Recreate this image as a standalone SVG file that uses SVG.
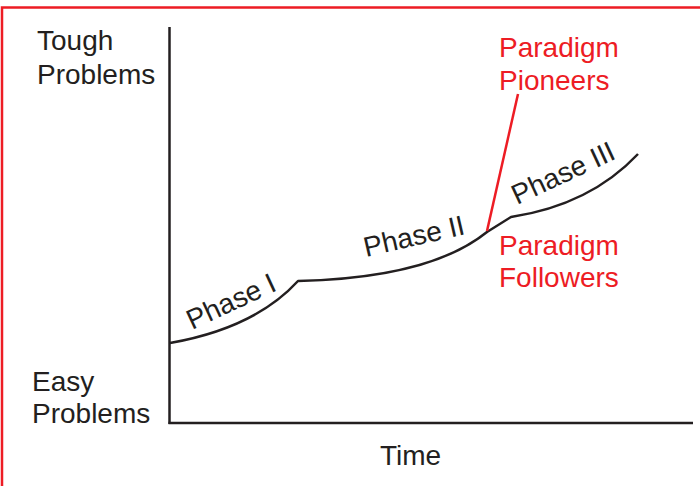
<svg xmlns="http://www.w3.org/2000/svg" width="700" height="486" viewBox="0 0 700 486">
<style>
.t{font-family:"Liberation Sans",Arial,sans-serif;font-size:28px;fill:#231f20}
.r{font-family:"Liberation Sans",Arial,sans-serif;font-size:28px;fill:#ed1c24}
.ax{stroke:#231f20;stroke-width:2.5;fill:none}
.cv{stroke:#231f20;stroke-width:2.5;fill:none;stroke-linejoin:round}
</style>
<rect width="700" height="486" fill="#fff"/>
<path d="M2,486 V7.5 H700" stroke="#ed1c24" stroke-width="2.5" fill="none"/>
<g id="axes">
<line class="ax" x1="169.5" y1="27" x2="169.5" y2="424"/>
<line class="ax" x1="168.5" y1="423" x2="693" y2="423"/>
</g>
<g id="labels">
<text class="t" x="37" y="50">Tough</text>
<text class="t" x="37" y="84">Problems</text>
<text class="t" x="32" y="391">Easy</text>
<text class="t" x="32" y="423">Problems</text>
<text class="t" x="380" y="465">Time</text>
</g>
<g id="connectors">
<path class="cv" d="M170,343 Q255,328 298,281 Q430,278 487,232 L511,217 Q590,205 638,154"/>
<line x1="487" y1="231" x2="518" y2="94" stroke="#ed1c24" stroke-width="2.5"/>
</g>
<g id="phase1"><text class="t" transform="translate(192,330) rotate(-25)">Phase I</text></g>
<g id="phase2"><text class="t" transform="translate(366,257) rotate(-13)">Phase II</text></g>
<g id="phase3"><text class="t" transform="translate(517,205) rotate(-25)">Phase III</text></g>
<g id="pioneers">
<text class="r" x="499" y="57">Paradigm</text>
<text class="r" x="499" y="90">Pioneers</text>
</g>
<g id="followers">
<text class="r" x="499" y="255">Paradigm</text>
<text class="r" x="499" y="287">Followers</text>
</g>
</svg>
